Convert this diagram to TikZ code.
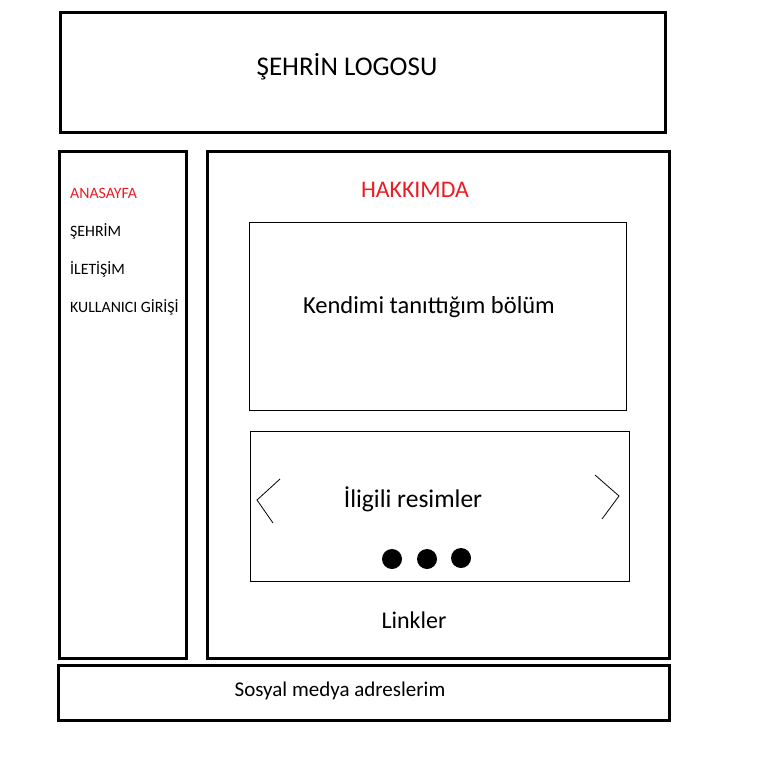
\documentclass[tikz,border=0pt]{standalone}
\usepackage{fontspec}
\setmainfont{Carlito}
\definecolor{navred}{RGB}{237,28,36}
\begin{document}
\begin{tikzpicture}[x=1pt,y=-1pt,
  thickbox/.style={draw=black,line width=3pt},
  thinbox/.style={draw=black,line width=1pt},
  menuitem/.style={anchor=west,inner sep=0pt,font=\fontsize{15.8}{18}\selectfont},
  lbl/.style={inner sep=0pt},
  dotmark/.style={circle,fill=black,minimum size=20pt,inner sep=0pt}]
\useasboundingbox (0,0) rectangle (784,768);
\fill[white] (0,0) rectangle (784,768);
% boxes
\draw[thickbox] (60,13) rectangle (665,132);
\draw[thickbox] (59,151) rectangle (186,658);
\draw[thickbox] (207,151) rectangle (669,658);
\draw[thickbox] (58,665) rectangle (669,720);
\draw[thinbox] (249,222) rectangle (626,410);
\draw[thinbox] (250,431) rectangle (629,581);
% texts
\node[lbl,font=\fontsize{27}{31}\selectfont] (logo) at (347,67) {ŞEHRİN LOGOSU};
\node[menuitem,text=navred] (m1) at (70,193) {ANASAYFA};
\node[menuitem] (m2) at (70,231) {ŞEHRİM};
\node[menuitem] (m3) at (70,269) {İLETİŞİM};
\node[menuitem] (m4) at (70,307) {KULLANICI GİRİŞİ};
\node[lbl,text=navred,font=\fontsize{23.8}{28}\selectfont] (hak) at (415,190) {HAKKIMDA};
\node[lbl,font=\fontsize{24.5}{29}\selectfont] (ken) at (429,307) {Kendimi tanıttığım bölüm};
\node[lbl,font=\fontsize{25.5}{30}\selectfont] (res) at (413,499) {İligili resimler};
\node[lbl,font=\fontsize{24}{28}\selectfont] (lnk) at (414,620) {Linkler};
\node[lbl,font=\fontsize{21}{25}\selectfont] (sos) at (340,691) {Sosyal medya adreslerim};
% chevrons
\draw[line width=0.8pt] (280,479) -- (257,500) -- (273,523);
\draw[line width=0.8pt] (595,475) -- (619,496) -- (602,519);
% dots
\node[dotmark] (d1) at (392,559) {};
\node[dotmark] (d2) at (427,559) {};
\node[dotmark] (d3) at (461,558) {};
\end{tikzpicture}
\end{document}
